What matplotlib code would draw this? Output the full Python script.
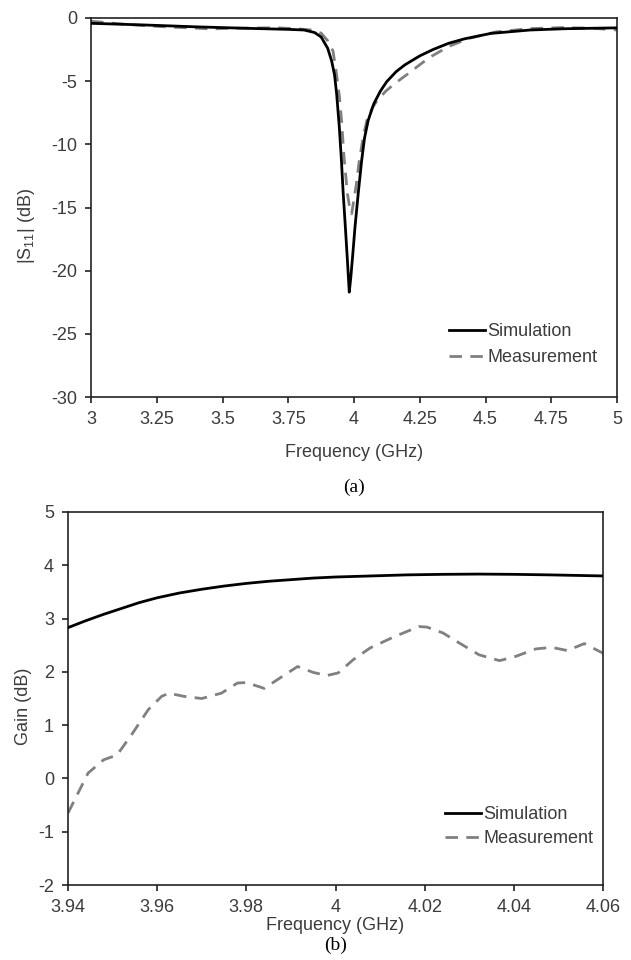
import numpy as np
import matplotlib
matplotlib.use("Agg")
import matplotlib.pyplot as plt

plt.rcParams['font.family'] = ['Liberation Sans', 'DejaVu Sans']
plt.rcParams['axes.unicode_minus'] = False
plt.rcParams['mathtext.fontset'] = 'custom'
plt.rcParams['mathtext.rm'] = 'Liberation Sans'

# ------------------------------
# (a) |S11| data
# ------------------------------
s11_sim_f = [3.00, 3.20, 3.40, 3.60, 3.75, 3.81, 3.85, 3.875, 3.90, 3.915, 3.926,
             3.934, 3.944, 3.952, 3.959, 3.967, 3.975, 3.982, 3.988, 3.995, 4.004,
             4.016, 4.029, 4.040, 4.054, 4.075, 4.10, 4.124, 4.16, 4.194, 4.25,
             4.30, 4.36, 4.42, 4.52, 4.67, 4.80, 5.00]
s11_sim_db = [-0.42, -0.55, -0.70, -0.82, -0.90, -0.95, -1.15, -1.5, -2.4, -3.4, -4.5,
              -6.0, -8.6, -11.2, -13.9, -16.5, -19.2, -21.7, -20.5, -18.8, -16.5,
              -13.9, -11.3, -9.5, -8.1, -6.8, -5.8, -5.05, -4.25, -3.7, -3.0,
              -2.5, -2.0, -1.65, -1.22, -0.95, -0.85, -0.78]

s11_meas_f = [3.00, 3.10, 3.20, 3.30, 3.40, 3.456, 3.52, 3.60, 3.70, 3.78, 3.84,
              3.875, 3.90, 3.92, 3.932, 3.945, 3.953, 3.962, 3.975, 3.985, 3.991,
              3.998, 4.008, 4.02, 4.035, 4.05, 4.07, 4.086, 4.12, 4.149, 4.18,
              4.213, 4.25, 4.289, 4.36, 4.44, 4.54, 4.67, 4.79, 4.90, 5.00]
s11_meas_db = [-0.25, -0.45, -0.60, -0.72, -0.80, -0.87, -0.82, -0.80, -0.77, -0.85, -0.95,
               -1.2, -1.8, -2.6, -4.2, -6.3, -8.2, -11.0, -13.9, -15.2, -15.5,
               -14.6, -13.3, -11.3, -9.4, -8.0, -7.1, -6.6, -5.8, -5.3, -4.8,
               -4.3, -3.7, -3.1, -2.25, -1.6, -1.1, -0.84, -0.76, -0.80, -0.95]

s11_xticks = [3, 3.25, 3.5, 3.75, 4, 4.25, 4.5, 4.75, 5]
s11_yticks = [0, -5, -10, -15, -20, -25, -30]

# ------------------------------
# (b) Gain data
# ------------------------------
gain_sim_f = [3.940, 3.944, 3.948, 3.952, 3.956, 3.960, 3.965, 3.970, 3.975,
              3.980, 3.985, 3.990, 3.995, 4.000, 4.008, 4.016, 4.024, 4.032,
              4.040, 4.048, 4.054, 4.060]
gain_sim_db = [2.83, 2.96, 3.08, 3.19, 3.30, 3.39, 3.48, 3.55, 3.61,
               3.66, 3.70, 3.73, 3.76, 3.78, 3.80, 3.82, 3.83, 3.835,
               3.83, 3.82, 3.81, 3.80]

gain_meas_f = [3.940, 3.9445, 3.948, 3.951, 3.9545, 3.958, 3.961, 3.9626, 3.966,
               3.970, 3.9744, 3.978, 3.980, 3.984, 3.988, 3.9915, 3.995, 3.998,
               4.0006, 4.004, 4.0078, 4.0132, 4.0187, 4.0205, 4.0241, 4.0278,
               4.0322, 4.0368, 4.0404, 4.0449, 4.0485, 4.052, 4.0558, 4.060]
gain_meas_db = [-0.65, 0.10, 0.35, 0.44, 0.85, 1.29, 1.54, 1.60, 1.54,
                1.50, 1.60, 1.79, 1.80, 1.69, 1.91, 2.10, 1.99, 1.93,
                1.98, 2.23, 2.45, 2.66, 2.85, 2.84, 2.73, 2.54,
                2.32, 2.21, 2.29, 2.43, 2.46, 2.40, 2.53, 2.35]

gain_xticks = [3.94, 3.96, 3.98, 4.00, 4.02, 4.04, 4.06]
gain_xlabels = ["3.94", "3.96", "3.98", "4", "4.02", "4.04", "4.06"]
gain_yticks = [5, 4, 3, 2, 1, 0, -1, -2]

TXT = '#3c3c3c'
GRAY = '#808080'


def style_axes(ax):
    for sp in ax.spines.values():
        sp.set_linewidth(1.2)
        sp.set_color('#222222')
    ax.tick_params(direction='out', length=4, width=1.2, color='#222222',
                   labelsize=13, labelcolor=TXT, pad=6)


fig = plt.figure(figsize=(6.31, 9.6), dpi=100)

# ------------------------------
# (a)
# ------------------------------
ax1 = fig.add_axes([91/631, 1 - 397/960, 526/631, 379/960])
ax1.plot(s11_sim_f, s11_sim_db, color='black', lw=2.0, label='Simulation', zorder=3)
ax1.plot(s11_meas_f, s11_meas_db, color=GRAY, lw=2.0, dashes=(4.5, 3),
         label='Measurement', zorder=2)
ax1.set_xlim(3, 5)
ax1.set_ylim(-30, 0)
ax1.set_xticks(s11_xticks)
ax1.set_xticklabels([f"{v:g}" for v in s11_xticks])
ax1.set_yticks(s11_yticks)
ax1.set_yticklabels([f"{v:g}" for v in s11_yticks])
style_axes(ax1)
ax1.set_xlabel('Frequency (GHz)', fontsize=13, color=TXT)
ax1.xaxis.set_label_coords(0.5, -0.125)
ax1.set_ylabel(r'|S$_{\mathregular{11}}$| (dB)', fontsize=13, color=TXT)
ax1.yaxis.label.set_va('center')
ax1.yaxis.set_label_coords(-0.122, 0.45)
ax1.legend(loc='upper left', bbox_to_anchor=(0.681, 0.195), frameon=False,
           fontsize=13, handlelength=2.0, handletextpad=0.1, labelspacing=0.5,
           borderpad=0, borderaxespad=0, labelcolor=TXT)
fig.text(0.5 + 0.5 * (91 + 617 - 631) / 631, 1 - 487/960, '(a)',
         family='Liberation Serif', fontsize=14, ha='center', va='center')

# ------------------------------
# (b)
# ------------------------------
ax2 = fig.add_axes([68/631, 1 - 885/960, 535/631, 373/960])
ax2.plot(gain_sim_f, gain_sim_db, color='black', lw=2.0, label='Simulation', zorder=3)
ax2.plot(gain_meas_f, gain_meas_db, color=GRAY, lw=2.0, dashes=(4.5, 3),
         label='Measurement', zorder=2)
ax2.set_xlim(3.94, 4.06)
ax2.set_ylim(-2, 5)
ax2.set_xticks(gain_xticks)
ax2.set_xticklabels(gain_xlabels)
ax2.set_yticks(gain_yticks)
ax2.set_yticklabels([f"{v:g}" for v in gain_yticks])
style_axes(ax2)
ax2.set_xlabel('Frequency (GHz)', fontsize=13, color=TXT)
ax2.xaxis.set_label_coords(0.5, -0.085)
ax2.set_ylabel('Gain (dB)', fontsize=13, color=TXT)
ax2.yaxis.label.set_va('center')
ax2.yaxis.set_label_coords(-0.083, 0.48)
ax2.legend(loc='upper left', bbox_to_anchor=(0.705, 0.212), frameon=False,
           fontsize=13, handlelength=2.0, handletextpad=0.1, labelspacing=0.4,
           borderpad=0, borderaxespad=0, labelcolor=TXT)
fig.text((68 + 603) / 2 / 631, 1 - 945/960, '(b)',
         family='Liberation Serif', fontsize=14, ha='center', va='center')

fig.savefig('out.png', dpi=100)
